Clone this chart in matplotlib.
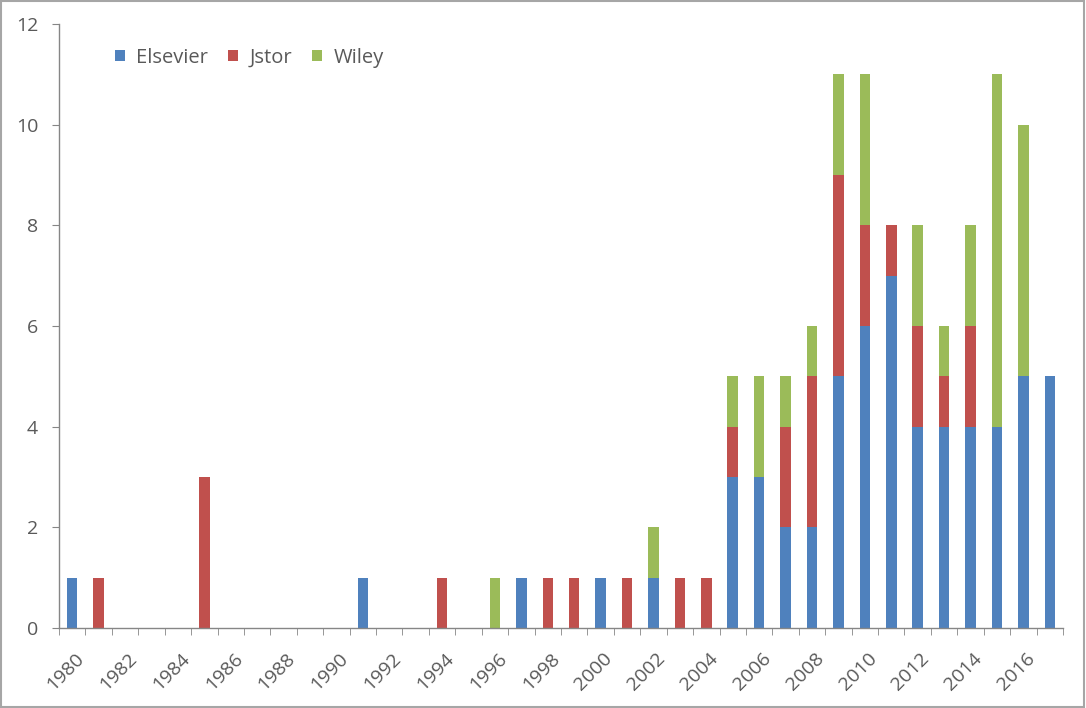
import matplotlib
matplotlib.use("Agg")
import matplotlib.pyplot as plt
import numpy as np
from matplotlib.patches import Rectangle

years = list(range(1980, 2018))
elsevier = [1,0,0,0,0,0,0,0,0,0, 0,1,0,0,0,0,0,1,0,0, 1,0,1,0,0,3,3,2,2,5, 6,7,4,4,4,4,5,5]
jstor    = [0,1,0,0,0,3,0,0,0,0, 0,0,0,0,1,0,0,0,1,1, 0,1,0,1,1,1,0,2,3,4, 2,1,2,1,2,0,0,0]
wiley    = [0,0,0,0,0,0,0,0,0,0, 0,0,0,0,0,0,1,0,0,0, 0,0,1,0,0,1,2,1,1,2, 3,0,2,1,2,7,5,0]
yticks = [0, 2, 4, 6, 8, 10, 12]

plt.rcParams['font.family'] = ['Open Sans', 'DejaVu Sans']
txt = '#595959'
fig = plt.figure(figsize=(10.86, 7.08), dpi=100)
ax = fig.add_axes([59/1086, 80/708, 1004/1086, 604/708])

x = np.arange(len(years))
e = np.array(elsevier); j = np.array(jstor); w = np.array(wiley)
bw = 0.4
ax.bar(x, e, bw, color='#4F81BD', label='Elsevier')
ax.bar(x, j, bw, bottom=e, color='#C0504D', label='Jstor')
ax.bar(x, w, bw, bottom=e + j, color='#9BBB59', label='Wiley')

ax.set_xlim(-0.5, len(years) - 0.5)
ax.set_ylim(0, 12)
ax.set_yticks(yticks)
ax.set_yticklabels([str(v) for v in yticks], fontsize=14, color=txt)
# label anchors sit slightly right of the category centre (Excel-style rotated labels)
ax.set_xticks(x[::2] + 0.1)
ax.set_xticklabels([str(y) for y in years[::2]], rotation=45, ha='right',
                   rotation_mode='anchor', fontsize=14, color=txt)
ax.tick_params(axis='x', which='major', length=0, pad=15.5)
ax.set_xticks(np.arange(-0.5, len(years), 1), minor=True)
ax.tick_params(axis='x', which='minor', length=5, color='#868686', direction='out')
ax.tick_params(axis='y', length=5, color='#868686', direction='out', pad=10)

for s in ['top', 'right']:
    ax.spines[s].set_visible(False)
for s in ['left', 'bottom']:
    ax.spines[s].set_color('#868686')
    ax.spines[s].set_linewidth(1)

leg = ax.legend(loc='center left', bbox_to_anchor=(0.0558, 0.944), ncol=3, frameon=False,
                fontsize=14.5, handlelength=0.5, handleheight=0.5, handletextpad=0.55,
                columnspacing=1.0, borderaxespad=0, borderpad=0)
for t in leg.get_texts():
    t.set_color(txt)

fig.patches.append(Rectangle((0.001, 0.001), 0.997, 0.997, transform=fig.transFigure,
                             fill=False, edgecolor='#a6a6a6', linewidth=1.5))
fig.savefig('out.png', dpi=100)
